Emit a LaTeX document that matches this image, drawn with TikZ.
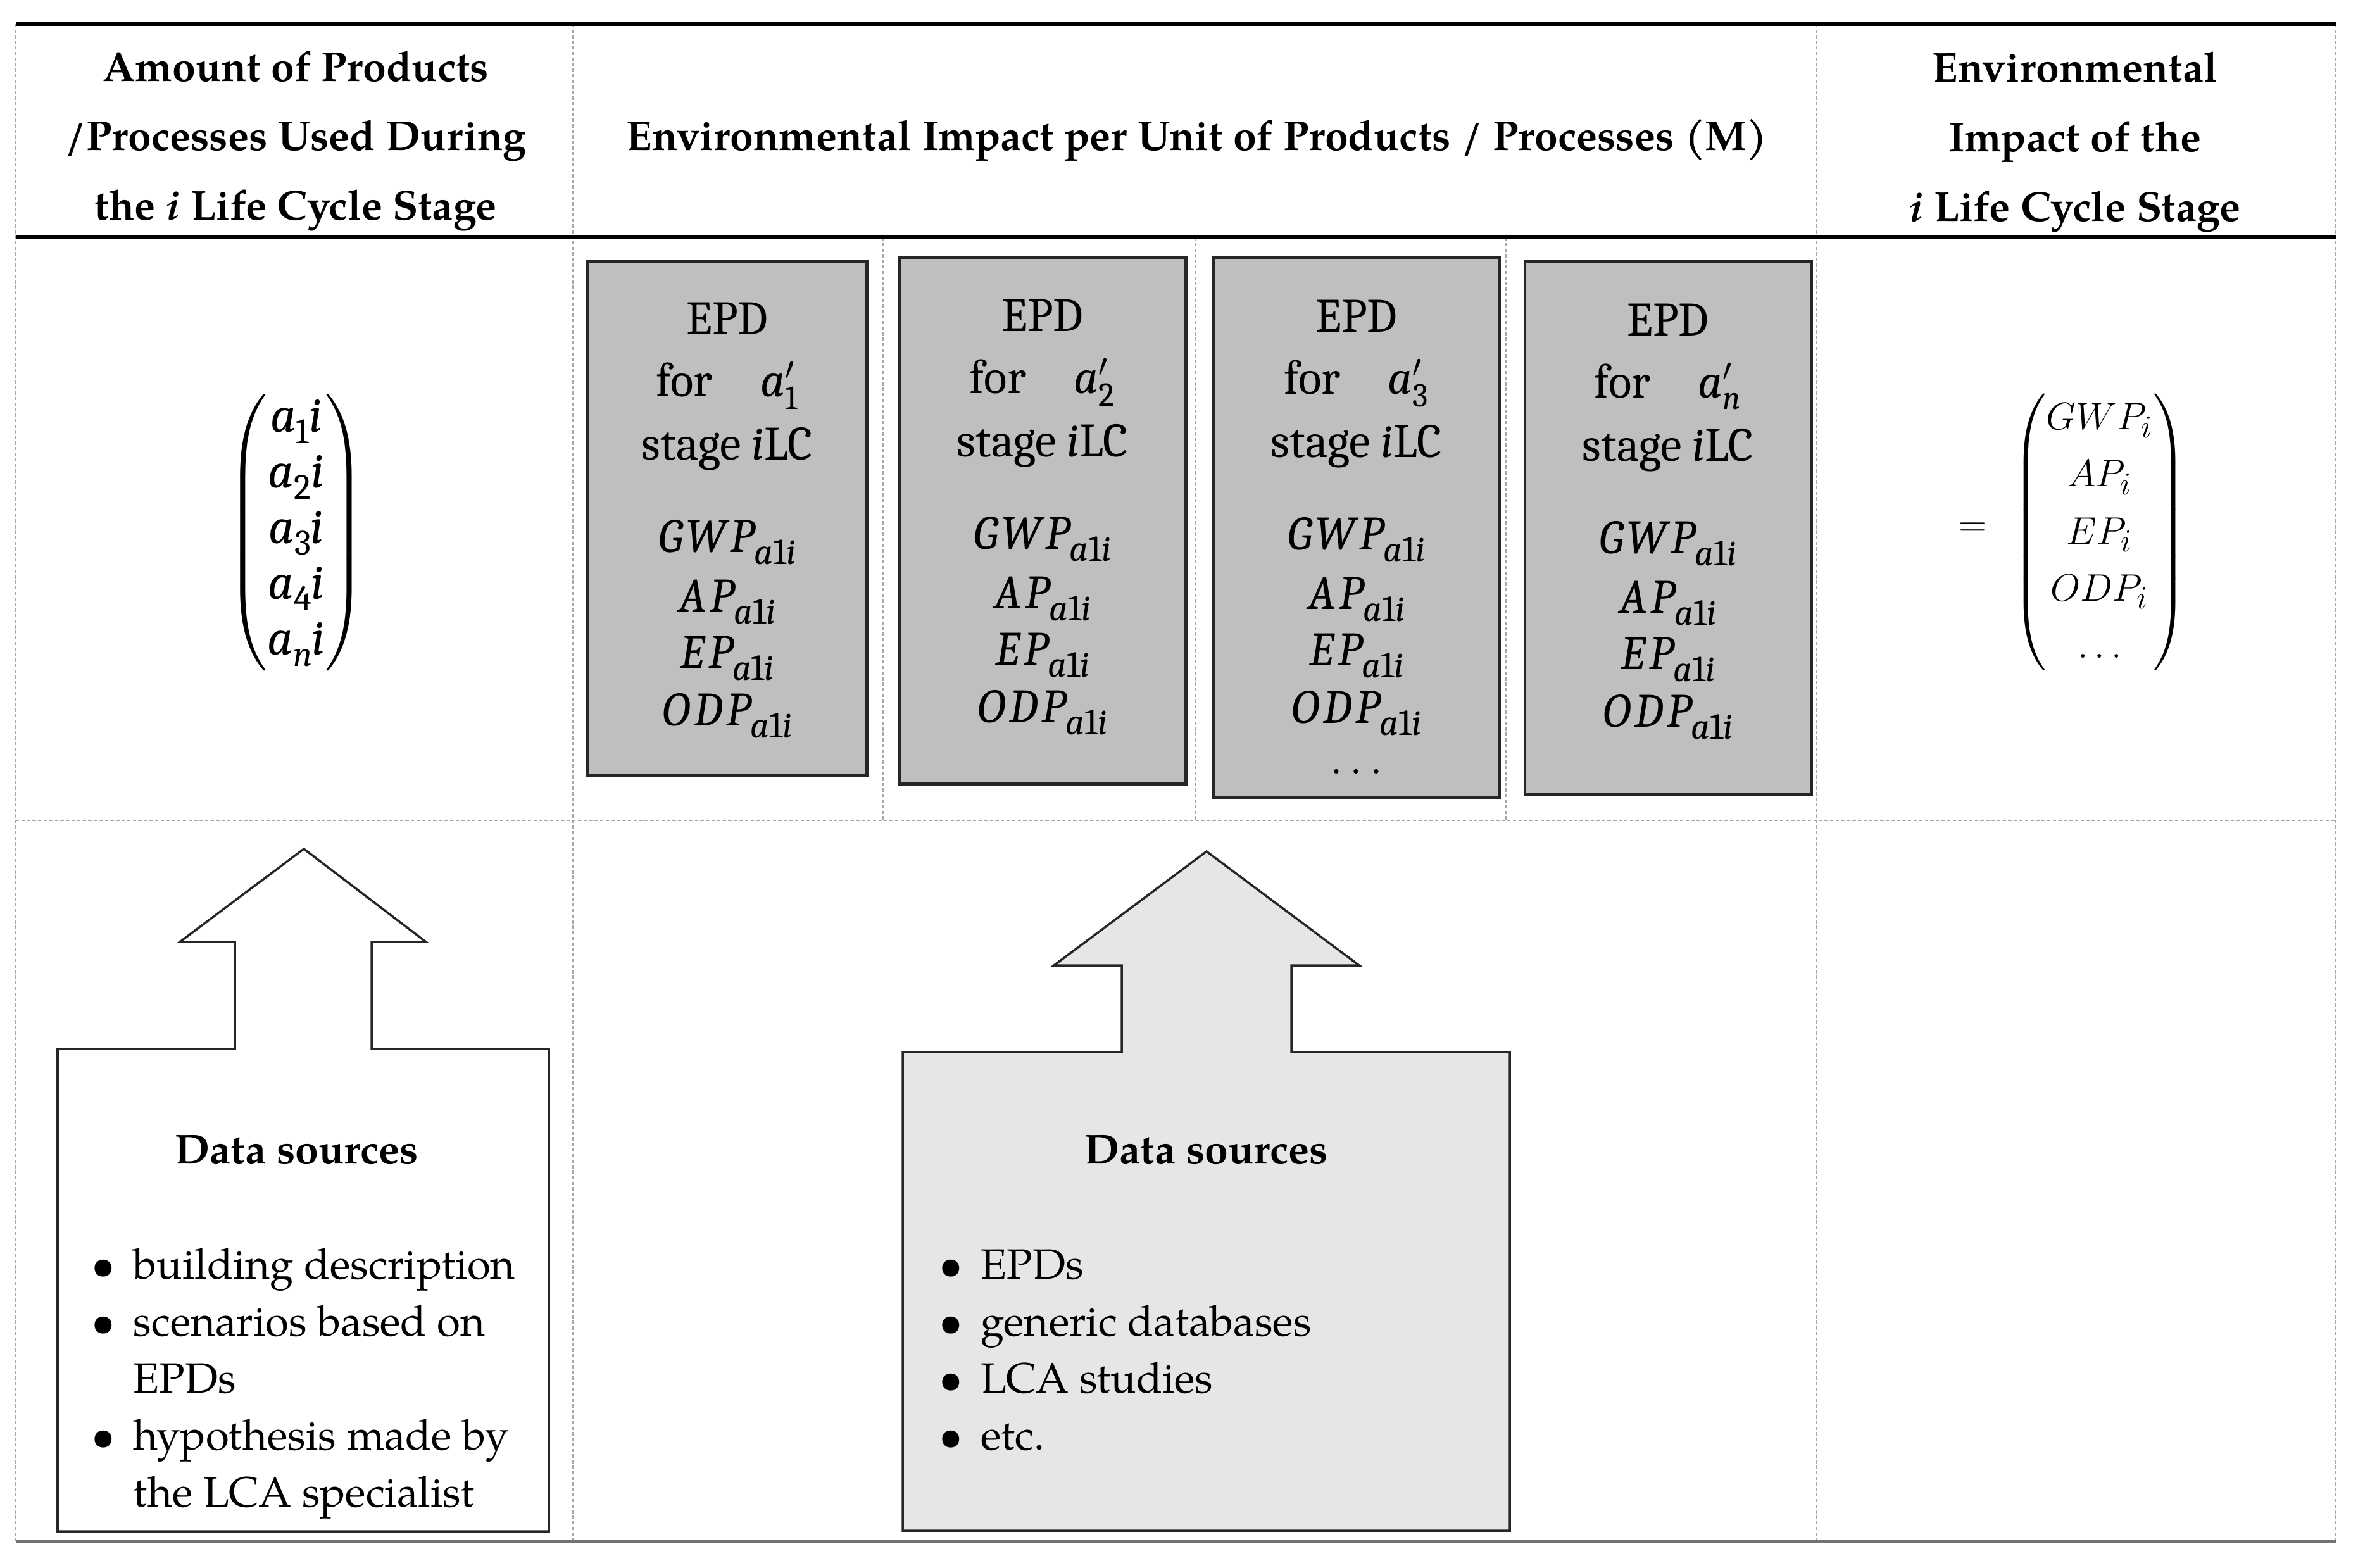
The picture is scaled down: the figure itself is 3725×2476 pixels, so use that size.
\documentclass[tikz,border=0pt]{standalone}
\usepackage{amsmath}
\usepackage{fontspec}
\setmainfont{texgyrepagella}[Extension=.otf,UprightFont=*-regular,BoldFont=*-bold,ItalicFont=*-italic,BoldItalicFont=*-bolditalic]
\IfFontExistsTF{Caladea}{\newfontfamily\boxfont{Caladea}\newfontfamily\boxmath{Caladea}[LetterSpace=8]}{\newfontfamily\boxfont{Liberation Serif}\newfontfamily\boxmath{Liberation Serif}[LetterSpace=8]}
\definecolor{epdgray}{HTML}{BFBFBF}
\definecolor{srcgray}{HTML}{E6E6E6}
\definecolor{gridgray}{HTML}{A6A6A6}
\tikzset{
  gridline/.style={draw=gridgray, line width=0.6pt, dash pattern=on 1.5pt off 1pt},
  rulebold/.style={draw=black, line width=1.7pt},
  rulebottom/.style={draw=black!55, line width=0.9pt},
  hdr/.style={anchor=base, inner sep=0pt, font=\bfseries\fontsize{18.8}{24}\selectfont},
  boxtxt/.style={anchor=base, inner sep=0pt, font=\boxfont\fontsize{21.5}{26}\selectfont},
  epdbox/.style={draw=black!85, line width=1.3pt, fill=epdgray, anchor=north west, inner sep=0pt, outer sep=0pt},
  srcshape/.style={draw=black!85, line width=1pt, line join=miter},
  srctitle/.style={anchor=base, inner sep=0pt, font=\bfseries\fontsize{18.8}{24}\selectfont},
  srcitem/.style={anchor=base west, inner sep=0pt, font=\fontsize{19.1}{24}\selectfont},
  bul/.style={anchor=base, inner sep=0pt, font=\fontsize{19.1}{24}\selectfont},
}
\newcommand\idx[1]{{\boxmath\itshape #1}\raisebox{-5.5pt}{\fontsize{16.5}{16.5}\selectfont\boxmath\itshape a\upshape 1\itshape i}}
\newcommand\vsub[1]{{\boxmath\itshape a}\raisebox{-5pt}{\fontsize{16}{16}\selectfont\boxmath #1}{\boxmath\itshape i}}
\newcommand\epdtext[4]{%
  \node[boxtxt] (#1-1) at (#2,#3) {EPD};
  \node[boxtxt] (#1-2) at (#2,#3+98) {for\quad$\textit{a}'_{#4}$};
  \node[boxtxt] (#1-3) at (#2,#3+198) {stage \textit{i}\/LC};
  \node[boxtxt] (#1-4) at (#2,#3+344) {\idx{GWP}};
  \node[boxtxt] (#1-5) at (#2,#3+438) {\idx{AP}};
  \node[boxtxt] (#1-6) at (#2,#3+527) {\idx{EP}};
  \node[boxtxt] (#1-7) at (#2,#3+618) {\idx{ODP}};
}
\begin{document}
\begin{tikzpicture}[x=0.01cm,y=-0.01cm]
\useasboundingbox (0,0) rectangle (3725,2476);
\fill[white] (0,0) rectangle (3725,2476);

% table grid
\draw[gridline] (25,38) -- (25,2435);
\draw[gridline] (905,38) -- (905,2435);
\draw[gridline] (2870,38) -- (2870,2435);
\draw[gridline] (3690,38) -- (3690,2435);
\draw[gridline] (25,1296) -- (3690,1296);
\draw[gridline] (1395,375) -- (1395,1296);
\draw[gridline] (1888,375) -- (1888,1296);
\draw[gridline] (2379,375) -- (2379,1296);
\draw[rulebold] (25,38) -- (3690,38);
\draw[rulebold] (25,375) -- (3690,375);
\draw[rulebottom] (25,2435) -- (3690,2435);

% headers
\node[hdr] (h1a) at (467,129) {Amount of Products};
\node[hdr] (h1b) at (467,238) {/Processes Used During};
\node[hdr] (h1c) at (467,348) {the \textit{i} Life Cycle Stage};
\node[hdr] (h2) at (1891,238) {Environmental Impact per Unit of Products / Processes (M)};
\node[hdr] (h3a) at (3278,130) {Environmental};
\node[hdr] (h3b) at (3278,240) {Impact of the};
\node[hdr] (h3c) at (3278,350) {\textit{i} Life Cycle Stage};

% left vector
\node[inner sep=0pt, font=\boxfont\fontsize{22.5}{25}\selectfont] (veca) at (468,841) {$\left(\begin{array}{@{}c@{}} \text{\vsub{1}}\\ \text{\vsub{2}}\\ \text{\vsub{3}}\\ \text{\vsub{4}}\\ \text{\vsub{\itshape n}}\end{array}\right)$};

% EPD boxes
\node[epdbox, minimum width=4.41cm, minimum height=8.11cm] (box1) at (928,413) {};
\node[epdbox, minimum width=4.52cm, minimum height=8.31cm] (box2) at (1421,407) {};
\node[epdbox, minimum width=4.51cm, minimum height=8.52cm] (box3) at (1917,407) {};
\node[epdbox, minimum width=4.52cm, minimum height=8.42cm] (box4) at (2409,413) {};
\epdtext{t1}{1149}{528}{\text{1}}
\epdtext{t2}{1647}{523}{\text{2}}
\epdtext{t3}{2143}{524}{\text{3}}
\epdtext{t4}{2635}{530}{\textit{n}}
\node[boxtxt] (t3-8) at (2143,1222) {$\ldots$};

% right vector
\node[inner sep=0pt] (eq) at (3116,837) {\fontsize{19}{25.6}\selectfont$=$};
\node[inner sep=0pt] (vecb) at (3317,841) {\fontsize{19}{25.6}\selectfont$\begin{pmatrix} GWP_i\\ AP_i\\ EP_i\\ ODP_i\\ \dots\end{pmatrix}$};

% data source shapes
\draw[srcshape, fill=white] (91,1657) -- (371,1657) -- (371,1488) -- (284,1488) -- (480,1341) -- (673,1488) -- (587,1488) -- (587,1657) -- (867,1657) -- (867,2419) -- (91,2419) -- cycle;
\draw[srcshape, fill=srcgray] (1426,1662) -- (1772,1662) -- (1772,1525) -- (1665,1525) -- (1906,1345) -- (2147,1525) -- (2040,1525) -- (2040,1662) -- (2385,1662) -- (2385,2418) -- (1426,2418) -- cycle;

\node[srctitle] (ds1) at (469,1838) {Data sources};
\node[bul] (b11) at (163,2020) {\textbullet};
\node[srcitem] (i11) at (210,2020) {building description};
\node[bul] (b12) at (163,2110) {\textbullet};
\node[srcitem] (i12) at (210,2110) {scenarios based on};
\node[srcitem] (i12b) at (210,2200) {EPDs};
\node[bul] (b13) at (163,2290) {\textbullet};
\node[srcitem] (i13) at (210,2290) {hypothesis made by};
\node[srcitem] (i13b) at (210,2380) {the LCA specialist};

\node[srctitle] (ds2) at (1906,1838) {Data sources};
\node[bul] (b21) at (1502,2020) {\textbullet};
\node[srcitem] (i21) at (1549,2020) {EPDs};
\node[bul] (b22) at (1502,2110) {\textbullet};
\node[srcitem] (i22) at (1549,2110) {generic databases};
\node[bul] (b23) at (1502,2200) {\textbullet};
\node[srcitem] (i23) at (1549,2200) {LCA studies};
\node[bul] (b24) at (1502,2290) {\textbullet};
\node[srcitem] (i24) at (1549,2290) {etc.};
\end{tikzpicture}
\end{document}
